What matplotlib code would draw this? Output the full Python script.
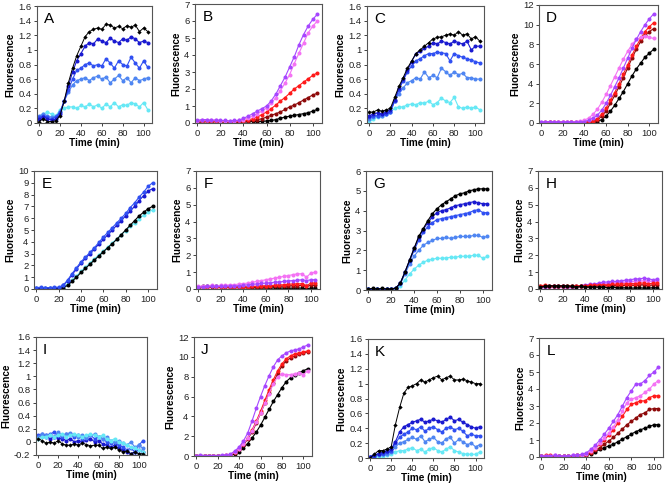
import matplotlib
matplotlib.use("Agg")
import matplotlib.pyplot as plt
from matplotlib.ticker import FuncFormatter, MultipleLocator

plt.rcParams['font.family'] = ['Liberation Sans', 'DejaVu Sans']

time = [0, 4, 8, 12, 16, 20, 24, 28, 32, 36, 40, 44, 48, 52, 56, 60, 64, 68, 72, 76, 80, 84, 88, 92, 96, 100, 104]
x_ticks = [0, 20, 40, 60, 80, 100]

# ---------- Panel A ----------
A_black = [0.02,0.06,0.02,0.02,0.03,0.10,0.30,0.55,0.75,0.92,1.05,1.18,1.25,1.28,1.30,1.28,1.35,1.34,1.30,1.32,1.29,1.33,1.31,1.34,1.25,1.30,1.25]
A_navy = [0.05,0.08,0.06,0.04,0.05,0.12,0.30,0.50,0.70,0.85,0.95,1.05,1.10,1.08,1.15,1.12,1.10,1.16,1.12,1.10,1.15,1.13,1.18,1.15,1.10,1.12,1.10]
A_blue = [0.08,0.10,0.08,0.06,0.08,0.15,0.30,0.45,0.60,0.72,0.75,0.80,0.82,0.78,0.80,0.78,0.88,0.82,0.75,0.85,0.80,0.78,0.90,0.82,0.75,0.85,0.76]
A_sky = [0.10,0.12,0.10,0.08,0.09,0.15,0.30,0.42,0.52,0.58,0.60,0.62,0.58,0.62,0.64,0.60,0.63,0.55,0.60,0.65,0.58,0.62,0.55,0.62,0.58,0.60,0.62]
A_cyan = [0.08,0.12,0.15,0.12,0.10,0.18,0.20,0.22,0.22,0.20,0.24,0.22,0.26,0.22,0.25,0.20,0.26,0.22,0.28,0.22,0.25,0.24,0.28,0.26,0.22,0.28,0.18]

# ---------- Panel B ----------
B_purple = [0.15,0.20,0.20,0.15,0.18,0.15,0.15,0.12,0.15,0.15,0.28,0.40,0.55,0.70,0.85,1.00,1.30,1.70,2.20,2.70,3.30,3.90,4.60,5.20,5.70,6.10,6.40]
B_pink = [0.12,0.15,0.18,0.15,0.15,0.12,0.12,0.10,0.12,0.15,0.20,0.30,0.40,0.55,0.70,0.90,1.15,1.50,1.90,2.35,2.85,3.50,4.10,4.70,5.30,5.70,6.00]
B_red = [0.10,0.12,0.12,0.10,0.12,0.10,0.10,0.08,0.10,0.10,0.12,0.18,0.25,0.35,0.50,0.65,0.85,1.05,1.30,1.50,1.75,2.00,2.20,2.40,2.60,2.80,2.95]
B_maroon = [0.08,0.10,0.10,0.08,0.10,0.08,0.08,0.08,0.08,0.08,0.10,0.12,0.15,0.20,0.25,0.35,0.45,0.55,0.65,0.80,0.95,1.05,1.20,1.35,1.50,1.65,1.75]
B_black = [0.05,0.08,0.10,0.08,0.10,0.08,0.06,0.08,0.06,0.05,0.08,0.08,0.10,0.08,0.10,0.12,0.15,0.20,0.28,0.35,0.40,0.45,0.50,0.55,0.60,0.70,0.80]

# ---------- Panel C ----------
C_black = [0.15,0.15,0.18,0.16,0.18,0.20,0.35,0.50,0.62,0.75,0.85,0.95,1.00,1.05,1.10,1.15,1.17,1.18,1.20,1.22,1.20,1.25,1.20,1.22,1.15,1.18,1.12]
C_navy = [0.10,0.12,0.14,0.12,0.15,0.18,0.32,0.48,0.60,0.72,0.84,0.95,0.98,1.02,1.05,1.10,1.08,1.12,1.10,1.08,1.12,1.10,1.08,1.12,1.00,1.05,1.05]
C_blue = [0.08,0.10,0.10,0.12,0.12,0.15,0.30,0.45,0.58,0.70,0.78,0.85,0.88,0.92,0.95,0.95,0.97,0.96,0.95,0.85,0.95,0.92,0.90,0.88,0.86,0.84,0.82]
C_sky = [0.06,0.08,0.10,0.10,0.12,0.15,0.30,0.40,0.48,0.55,0.58,0.62,0.60,0.70,0.62,0.65,0.62,0.75,0.70,0.65,0.70,0.66,0.68,0.62,0.62,0.60,0.60]
C_cyan = [0.02,0.05,0.08,0.10,0.12,0.15,0.20,0.22,0.22,0.25,0.26,0.25,0.28,0.27,0.30,0.25,0.28,0.34,0.30,0.28,0.35,0.22,0.20,0.22,0.20,0.22,0.18]

# ---------- Panel D ----------
D_purple = [0.10,0.12,0.15,0.10,0.12,0.10,0.10,0.12,0.10,0.12,0.15,0.30,0.50,0.80,1.30,2.00,2.80,3.70,4.60,5.60,6.60,7.60,8.50,9.30,10.00,10.60,11.10]
D_pink = [0.10,0.15,0.12,0.15,0.12,0.10,0.12,0.15,0.15,0.20,0.30,0.50,0.90,1.40,2.10,2.90,3.80,4.70,5.60,6.50,7.30,8.00,8.50,8.70,8.80,8.70,8.60]
D_red = [0.05,0.08,0.10,0.08,0.10,0.08,0.08,0.10,0.08,0.08,0.10,0.12,0.20,0.45,0.90,1.50,2.30,3.10,4.00,5.00,5.90,6.90,7.80,8.60,9.30,9.80,10.20]
D_maroon = [0.05,0.05,0.08,0.05,0.05,0.05,0.05,0.08,0.05,0.05,0.05,0.08,0.12,0.30,0.70,1.20,2.00,2.80,3.70,4.60,5.60,6.60,7.50,8.30,8.90,9.30,9.60]
D_black = [0.02,0.02,0.03,0.02,0.02,0.02,0.02,0.03,0.02,0.02,0.03,0.03,0.05,0.15,0.35,0.70,1.20,1.80,2.50,3.20,4.00,4.80,5.50,6.10,6.70,7.10,7.50]

# ---------- Panel E ----------
E_navy = [0.10,0.10,0.12,0.10,0.10,0.12,0.30,0.70,1.20,1.70,2.20,2.60,3.00,3.40,3.80,4.20,4.60,5.00,5.40,5.80,6.20,6.60,7.00,7.50,7.90,8.30,8.50]
E_blue = [0.12,0.15,0.12,0.12,0.15,0.15,0.30,0.75,1.30,1.80,2.30,2.70,3.10,3.50,3.95,4.40,4.80,5.20,5.60,6.00,6.40,6.90,7.30,7.80,8.20,8.70,9.00]
E_cyan = [0.05,0.05,0.05,0.05,0.05,0.05,0.15,0.40,0.75,1.10,1.50,1.85,2.20,2.55,2.90,3.20,3.55,3.90,4.25,4.60,4.95,5.30,5.60,5.95,6.25,6.50,6.70]
E_black = [0.03,0.03,0.03,0.03,0.03,0.05,0.10,0.30,0.65,1.00,1.40,1.75,2.10,2.45,2.80,3.15,3.50,3.85,4.20,4.60,5.00,5.40,5.80,6.20,6.50,6.80,7.00]

# ---------- Panel F ----------
F_pink = [0.15,0.18,0.20,0.22,0.20,0.22,0.22,0.25,0.25,0.30,0.32,0.35,0.40,0.45,0.50,0.55,0.60,0.65,0.70,0.75,0.80,0.85,0.90,0.90,0.70,0.95,1.00]
F_purple = [0.10,0.12,0.15,0.15,0.15,0.15,0.15,0.18,0.18,0.20,0.22,0.25,0.28,0.30,0.33,0.35,0.38,0.40,0.42,0.45,0.48,0.50,0.52,0.55,0.50,0.55,0.55]
F_red = [0.10,0.12,0.12,0.15,0.12,0.12,0.12,0.12,0.10,0.12,0.12,0.12,0.15,0.15,0.18,0.20,0.20,0.22,0.25,0.25,0.28,0.30,0.30,0.32,0.20,0.35,0.35]
F_maroon = [0.08,0.10,0.12,0.12,0.10,0.10,0.10,0.10,0.10,0.10,0.10,0.10,0.12,0.12,0.12,0.14,0.15,0.15,0.16,0.18,0.18,0.20,0.20,0.22,0.15,0.22,0.22]
F_black = [0.08,0.15,0.18,0.20,0.18,0.15,0.18,0.12,0.10,0.12,0.10,0.08,0.10,0.05,0.08,0.06,0.05,0.08,0.05,0.06,0.04,0.05,0.06,0.05,0.02,0.05,0.05]

# ---------- Panel G ----------
G_black = [0.05,0.08,0.05,0.08,0.05,0.05,0.10,0.35,0.90,1.50,2.10,2.70,3.10,3.50,3.85,4.10,4.30,4.45,4.60,4.75,4.85,4.90,5.00,5.05,5.10,5.10,5.10]
G_navy = [0.05,0.05,0.05,0.05,0.05,0.05,0.10,0.35,0.90,1.50,2.10,2.65,3.05,3.40,3.70,3.90,4.00,4.05,4.15,4.25,4.30,4.35,4.40,4.45,4.40,4.35,4.35]
G_blue = [0.05,0.05,0.05,0.05,0.05,0.05,0.10,0.35,0.90,1.45,2.00,2.50,2.90,3.20,3.40,3.55,3.60,3.65,3.70,3.75,3.80,3.85,3.90,4.00,4.05,3.90,3.90]
G_sky = [0.05,0.05,0.05,0.05,0.05,0.05,0.08,0.30,0.80,1.30,1.70,2.00,2.25,2.40,2.50,2.60,2.60,2.65,2.60,2.65,2.70,2.70,2.70,2.75,2.75,2.65,2.70]
G_cyan = [0.05,0.05,0.05,0.05,0.05,0.05,0.08,0.20,0.50,0.80,1.05,1.25,1.40,1.50,1.55,1.60,1.60,1.62,1.65,1.65,1.70,1.70,1.70,1.75,1.75,1.60,1.70]

# ---------- Panel H ----------
H_purple = [0.10,0.12,0.15,0.15,0.15,0.15,0.12,0.10,0.15,0.20,0.25,0.28,0.30,0.35,0.40,0.42,0.45,0.45,0.50,0.52,0.55,0.60,0.60,0.65,0.60,0.55,0.60]
H_pink = [0.08,0.10,0.10,0.12,0.12,0.10,0.10,0.10,0.12,0.15,0.20,0.22,0.25,0.28,0.30,0.32,0.35,0.38,0.40,0.40,0.42,0.45,0.45,0.50,0.45,0.45,0.50]
H_red = [0.20,0.22,0.20,0.20,0.20,0.20,0.20,0.18,0.18,0.20,0.20,0.22,0.22,0.25,0.25,0.25,0.28,0.28,0.30,0.30,0.32,0.32,0.35,0.35,0.30,0.35,0.35]
H_maroon = [0.15,0.15,0.15,0.15,0.15,0.15,0.15,0.15,0.15,0.15,0.15,0.15,0.18,0.18,0.18,0.20,0.20,0.20,0.20,0.22,0.22,0.22,0.25,0.25,0.20,0.25,0.25]
H_black = [0.12,0.15,0.20,0.18,0.20,0.18,0.20,0.15,0.12,0.15,0.12,0.10,0.12,0.10,0.10,0.08,0.10,0.08,0.06,0.08,0.05,0.06,0.08,0.05,0.05,0.08,0.08]

# ---------- Panel I ----------
I_navy = [0.08,0.10,0.08,0.05,0.08,0.06,0.05,0.02,0.05,0.00,0.02,0.00,0.03,0.05,0.00,0.02,-0.03,-0.05,-0.08,-0.05,-0.10,-0.12,-0.15,-0.18,-0.15,-0.12,-0.15]
I_blue = [0.10,0.12,0.10,0.12,0.15,0.10,0.08,0.12,0.10,0.08,0.10,0.05,0.08,0.10,0.05,0.08,0.05,0.00,-0.02,0.00,-0.05,-0.08,-0.12,-0.10,-0.15,-0.05,0.02]
I_sky = [0.08,0.12,0.10,0.10,0.08,0.15,0.10,0.12,0.14,0.10,0.08,0.10,0.06,0.10,0.12,0.08,0.05,0.08,0.02,0.00,0.02,-0.02,-0.05,0.00,-0.08,-0.05,-0.10]
I_cyan = [0.05,0.08,0.08,0.10,0.08,0.10,0.12,0.08,0.10,0.12,0.10,0.08,0.10,0.12,0.10,0.08,0.10,0.05,0.02,0.05,0.00,-0.02,-0.05,-0.08,-0.10,-0.12,-0.15]
I_black = [0.05,0.02,-0.02,0.00,-0.02,0.02,-0.03,-0.05,-0.05,-0.03,-0.05,-0.02,-0.04,-0.06,-0.05,-0.05,-0.10,-0.08,-0.10,-0.08,-0.12,-0.15,-0.14,-0.18,-0.16,-0.18,-0.18]

# ---------- Panel J ----------
J_purple = [0.05,0.08,0.05,0.05,0.05,0.05,0.08,0.10,0.20,0.50,0.90,1.50,2.30,3.50,4.80,6.00,7.10,8.10,9.00,9.70,10.10,10.40,10.60,10.70,10.80,11.00,11.20]
J_pink = [0.05,0.05,0.05,0.05,0.05,0.05,0.05,0.08,0.15,0.40,0.75,1.20,1.80,2.50,3.40,4.30,5.30,6.30,7.30,8.00,8.30,8.20,8.20,8.30,8.40,8.20,8.60]
J_red = [0.05,0.05,0.05,0.05,0.05,0.05,0.05,0.08,0.15,0.40,0.75,1.20,1.80,2.60,3.50,4.50,5.60,6.70,7.70,8.60,9.30,9.80,10.10,10.30,10.40,10.50,10.60]
J_maroon = [0.05,0.05,0.05,0.05,0.05,0.05,0.05,0.05,0.10,0.35,0.70,1.10,1.70,2.40,3.30,4.30,5.30,6.40,7.40,8.30,9.10,9.60,9.90,10.10,10.30,10.40,10.50]
J_black = [0.05,0.05,0.05,0.05,0.05,0.05,0.05,0.05,0.05,0.20,0.45,0.80,1.25,1.80,2.40,3.10,3.90,4.70,5.50,6.20,6.90,7.50,7.90,8.20,8.40,8.60,8.80]

# ---------- Panel K ----------
K_black = [0.00,0.05,0.10,0.10,0.12,0.15,0.45,0.68,0.87,0.95,0.97,1.00,1.05,1.02,1.05,1.08,1.10,1.05,1.08,1.10,1.05,1.05,1.06,1.04,1.02,1.00,1.00]
K_navy = [0.02,0.04,0.06,0.08,0.10,0.12,0.22,0.35,0.42,0.45,0.48,0.50,0.52,0.48,0.50,0.52,0.50,0.48,0.52,0.55,0.50,0.52,0.48,0.45,0.42,0.40,0.42]
K_blue = [0.02,0.03,0.05,0.06,0.08,0.10,0.20,0.28,0.32,0.35,0.40,0.38,0.42,0.36,0.40,0.42,0.38,0.35,0.40,0.42,0.38,0.40,0.36,0.30,0.32,0.30,0.30]
K_sky = [0.01,0.02,0.04,0.05,0.06,0.08,0.15,0.20,0.22,0.25,0.28,0.25,0.30,0.22,0.25,0.28,0.22,0.20,0.26,0.28,0.20,0.25,0.22,0.18,0.20,0.15,0.18]
K_cyan = [0.00,0.01,0.02,0.03,0.04,0.05,0.08,0.10,0.10,0.12,0.14,0.10,0.12,0.08,0.12,0.14,0.10,0.08,0.12,0.15,0.10,0.08,0.06,0.05,0.05,0.05,0.08]

# ---------- Panel L ----------
L_purple = [0.05,0.08,0.08,0.10,0.08,0.05,0.08,0.10,0.12,0.15,0.25,0.45,0.70,1.00,1.35,1.70,2.10,2.50,3.00,3.50,3.90,4.30,4.30,4.50,4.80,5.00,5.30]
L_pink = [0.05,0.08,0.08,0.10,0.08,0.05,0.08,0.10,0.12,0.12,0.20,0.35,0.55,0.80,1.10,1.40,1.75,2.20,2.70,3.20,3.40,3.50,3.60,3.80,4.00,4.30,4.50]
L_red = [0.08,0.10,0.10,0.08,0.08,0.05,0.08,0.08,0.10,0.12,0.15,0.30,0.50,0.75,1.00,1.30,1.60,2.00,2.40,2.80,3.10,3.20,3.30,3.30,3.50,3.60,3.60]
L_maroon = [0.05,0.05,0.08,0.08,0.05,0.05,0.05,0.08,0.08,0.10,0.12,0.25,0.40,0.55,0.75,0.95,1.15,1.40,1.65,1.90,2.10,2.30,2.50,2.60,2.80,2.85,2.85]
L_black = [0.05,0.05,0.05,0.08,0.05,0.05,0.05,0.08,0.10,0.10,0.10,0.20,0.30,0.45,0.55,0.65,0.75,0.90,1.05,1.20,1.35,1.50,1.60,1.70,1.80,1.90,1.90]

COLORS = {
    'black': '#000000', 'navy': '#1a1ad0', 'blue': '#3050f2', 'sky': '#4f86f2',
    'cyan': '#66e8f5', 'purple': '#a646ff', 'pink': '#f472f4', 'red': '#ff1a1a',
    'maroon': '#8e0a0a',
}

blue_order = ['cyan', 'sky', 'blue', 'navy', 'black']
red_order = ['black', 'maroon', 'red', 'pink', 'purple']

panels = [
    ('A', (37, 6, 152, 123), (0, 1.6), 0.2, blue_order, dict(cyan=A_cyan, sky=A_sky, blue=A_blue, navy=A_navy, black=A_black), True),
    ('B', (195, 4, 322, 123), (0, 7), 1, red_order, dict(black=B_black, maroon=B_maroon, red=B_red, pink=B_pink, purple=B_purple), False),
    ('C', (367, 6, 484, 123), (0, 1.6), 0.2, blue_order, dict(cyan=C_cyan, sky=C_sky, blue=C_blue, navy=C_navy, black=C_black), True),
    ('D', (539, 5, 658, 123), (0, 12), 2, red_order, dict(black=D_black, maroon=D_maroon, red=D_red, pink=D_pink, purple=D_purple), False),
    ('E', (34, 171, 157, 289), (0, 10), 1, ['cyan', 'black', 'navy', 'blue'], dict(cyan=E_cyan, black=E_black, navy=E_navy, blue=E_blue), False),
    ('F', (196, 171, 320, 289), (0, 7), 1, red_order, dict(black=F_black, maroon=F_maroon, red=F_red, pink=F_pink, purple=F_purple), False),
    ('G', (366, 171, 492, 290), (0, 6), 1, blue_order, dict(cyan=G_cyan, sky=G_sky, blue=G_blue, navy=G_navy, black=G_black), False),
    ('H', (538, 171, 662, 289), (0, 7), 1, ['pink', 'purple', 'maroon', 'red', 'black'], dict(black=H_black, maroon=H_maroon, red=H_red, pink=H_pink, purple=H_purple), False),
    ('I', (36, 337, 147, 455), (-0.2, 1.6), 0.2, ['navy', 'blue', 'sky', 'cyan', 'black'], dict(cyan=I_cyan, sky=I_sky, blue=I_blue, navy=I_navy, black=I_black), True),
    ('J', (194, 337, 312, 456), (0, 12), 2, red_order, dict(black=J_black, maroon=J_maroon, red=J_red, pink=J_pink, purple=J_purple), False),
    ('K', (368, 339, 484, 458), (0, 1.6), 0.2, blue_order, dict(cyan=K_cyan, sky=K_sky, blue=K_blue, navy=K_navy, black=K_black), True),
    ('L', (539, 338, 663, 457), (0, 7), 1, red_order, dict(black=L_black, maroon=L_maroon, red=L_red, pink=L_pink, purple=L_purple), False),
]

W, H = 668, 488
fig = plt.figure(figsize=(W / 100, H / 100), dpi=100)

fmt = FuncFormatter(lambda v, p: '%g' % round(v, 6))

for letter, (l, t, r, b), ylim, ystep, order, data, diamond in panels:
    ax = fig.add_axes([l / W, 1 - b / H, (r - l) / W, (b - t) / H])
    for name in order:
        y = data[name]
        n = min(len(y), len(time))
        if name == 'black' and diamond:
            ax.plot(time[:n], y[:n], color=COLORS[name], marker='D', ms=2.2, lw=0.7, mew=0)
        else:
            ax.plot(time[:n], y[:n], color=COLORS[name], marker='o', ms=2.9, lw=0.8, mew=0)
    ax.set_xlim(-2, 108)
    ax.set_ylim(*ylim)
    ax.xaxis.set_major_locator(plt.FixedLocator(x_ticks))
    ax.yaxis.set_major_locator(MultipleLocator(ystep))
    ax.yaxis.set_major_formatter(fmt)
    ax.xaxis.set_major_formatter(fmt)
    ax.tick_params(direction='out', length=2.5, width=0.6, labelsize=6.8, pad=1.5, colors='#222222')
    for s in ax.spines.values():
        s.set_linewidth(0.8)
        s.set_color('#555555')
    ax.set_xlabel('Time (min)', fontsize=7.2, fontweight='bold', labelpad=0)
    ax.set_ylabel('Fluorescence', fontsize=7.2, fontweight='bold', labelpad=2)
    ax.text(0.06, 0.95, letter, transform=ax.transAxes, fontsize=11, va='top', ha='left')

fig.savefig('out.png', dpi=100)
